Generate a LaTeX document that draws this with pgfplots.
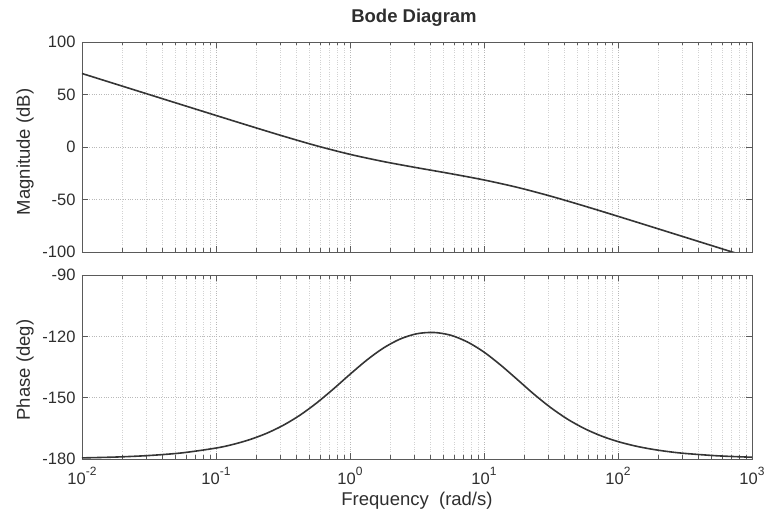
\documentclass[border=0pt]{standalone}
\usepackage{fontspec}
\setmainfont{Liberation Sans}
\usepackage{pgfplots}
\pgfplotsset{compat=1.18}
\definecolor{axgray}{HTML}{5A5A5A}
\definecolor{txtgray}{HTML}{2E2E2E}
\definecolor{crv}{HTML}{353535}
\newcommand\tfont{\fontsize{16.5pt}{18pt}\selectfont}
\newcommand\lfont{\fontsize{18.5pt}{21pt}\selectfont}
\newcommand\ex[1]{10\raisebox{0.5em}{\fontsize{12pt}{13pt}\selectfont #1}}
\pgfplotsset{
  bodeax/.style={
    xmin=1e-2, xmax=1e3,
    width=670pt, scale only axis,
    axis line style={axgray, line width=0.9pt},
    tick style={axgray, line width=0.7pt},
    tick align=inside,
    major tick length=6pt, minor tick length=3.5pt,
    grid=both,
    major grid style={dotted, gray!55, line width=0.6pt},
    minor grid style={dotted, gray!35, line width=0.5pt},
    xtick={1e-2,1e-1,1e0,1e1,1e2,1e3},
    minor xtick={2e-2,3e-2,4e-2,5e-2,6e-2,7e-2,8e-2,9e-2,
                 2e-1,3e-1,4e-1,5e-1,6e-1,7e-1,8e-1,9e-1,
                 2,3,4,5,6,7,8,9,20,30,40,50,60,70,80,90,
                 200,300,400,500,600,700,800,900},
    tick label style={font=\tfont, text=txtgray},
    yticklabel style={xshift=-3pt},
    xticklabel style={yshift=-5pt},
    clip=true,
  }
}
\begin{document}
\begin{tikzpicture}
\useasboundingbox (0,0) rectangle (771pt,516pt);
% magnitude
\begin{axis}[xmode=log, log basis x=10, bodeax, at={(82pt,264pt)}, anchor=south west, height=210pt,
  ymin=-100, ymax=100, ytick={-100,-50,0,50,100},
  yticklabels={-100,-50,0,50,100},
  xticklabels={}]
\addplot[crv, line width=1.6pt, smooth] coordinates {
(0.01,70.0) (0.01778,60.0) (0.03162,50.0) (0.05623,40.01) (0.1,30.04)
(0.1778,20.14) (0.3162,10.41) (0.5623,1.18) (1,-7.0) (1.778,-13.86)
(3.162,-19.76) (5.623,-25.37) (10,-31.39) (17.78,-38.48) (31.62,-46.91)
(56.23,-56.25) (100,-66.03) (177.8,-75.95) (316.2,-85.93) (562.3,-95.92)
(1000,-105.92)};
\end{axis}
% phase
\begin{axis}[xmode=log, log basis x=10, bodeax, at={(82pt,57pt)}, anchor=south west, height=184pt,
  ymin=-180, ymax=-90, ytick={-180,-150,-120,-90},
  yticklabels={-180,-150,-120,-90},
  xticklabels={\ex{-2},\ex{-1},\ex{0},\ex{1},\ex{2},\ex{3}}]
\addplot[crv, line width=1.6pt, smooth] coordinates {
(0.01,-179.46) (0.01778,-179.05) (0.03162,-178.30) (0.05623,-176.98)
(0.1,-174.65) (0.1334,-172.9) (0.1778,-170.56) (0.2371,-167.51) (0.3162,-163.58)
(0.4217,-158.64) (0.5623,-152.65) (0.7499,-145.81) (1,-138.58)
(1.334,-131.63) (1.778,-125.70) (2.371,-121.30) (3.162,-118.72)
(4.217,-118.11) (5.623,-119.43) (7.499,-122.71) (10,-127.71)
(13.34,-134.11) (17.78,-141.20) (23.71,-148.41) (31.62,-154.97)
(42.17,-160.58) (56.23,-165.13) (74.99,-168.72) (100,-171.48)
(133.4,-173.59) (177.8,-175.18) (237.1,-176.38) (316.2,-177.28)
(562.3,-178.47) (1000,-179.14)};
\end{axis}
\node[font=\lfont\bfseries, text=txtgray] at (414pt,498pt) {Bode Diagram};
\node[font=\lfont, text=txtgray, rotate=90] at (25pt,364pt) {Magnitude (dB)};
\node[font=\lfont, text=txtgray, rotate=90] at (25pt,146pt) {Phase (deg)};
\node[font=\lfont, text=txtgray] at (417pt,15pt) {Frequency~~(rad/s)};
\end{tikzpicture}
\end{document}
